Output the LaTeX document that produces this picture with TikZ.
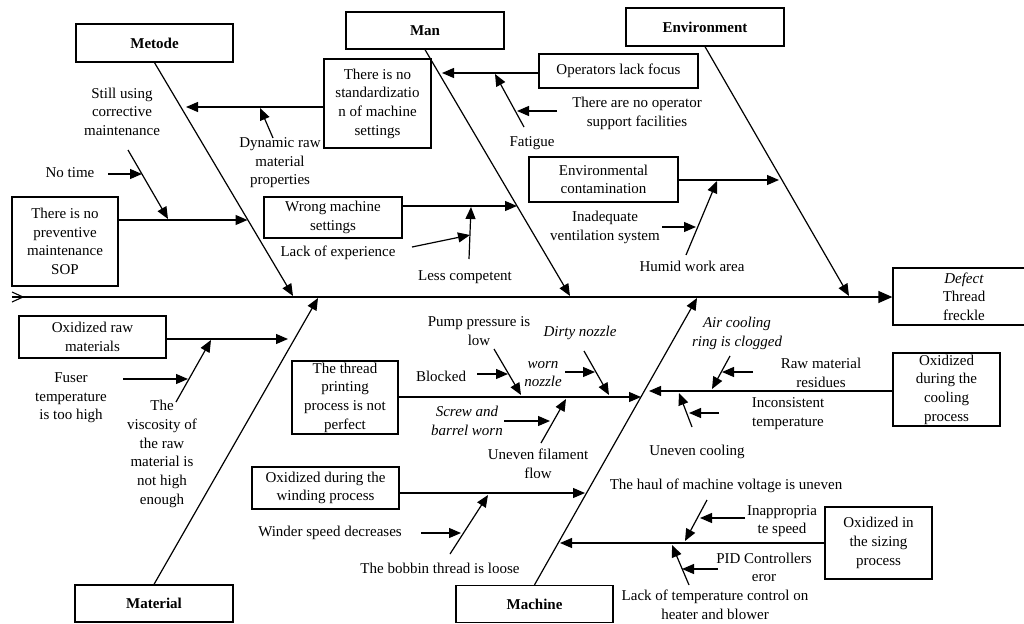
\documentclass[tikz,border=0pt]{standalone}
\usepackage{fontspec}
\setmainfont{Liberation Serif}
\usetikzlibrary{arrows.meta}
\begin{document}
\begin{tikzpicture}[x=1pt,y=-1pt,
  every node/.style={font=\fontsize{15}{18.7}\selectfont},
  box/.style={draw, line width=1.3pt, inner sep=0pt, align=center},
  cat/.style={box, font=\fontsize{15}{18.7}\selectfont\bfseries},
  lbl/.style={inner sep=0pt, align=center},
  ilbl/.style={lbl, font=\fontsize{15}{18.7}\selectfont\itshape},
  arr/.style={line width=1.2pt, -{Triangle[length=12pt,width=10pt]}},
  bone/.style={line width=1.2pt, -{Triangle[length=12pt,width=10pt]}},
  spinearr/.style={line width=1.3pt, -{Triangle[length=14pt,width=12pt]}},
]
\useasboundingbox (0,0) rectangle (1024,623);

% category boxes
\node[cat, minimum width=157pt, minimum height=38pt] (metode) at (154.5,43) {Metode};
\node[cat, minimum width=158pt, minimum height=37pt] (man) at (425,30.5) {Man};
\node[cat, minimum width=158pt, minimum height=38pt] (env) at (705,27) {Environment};
\node[cat, minimum width=158pt, minimum height=37pt] (material) at (154,603.5) {Material};
\node[cat, minimum width=157pt, minimum height=37pt] (machine) at (534.5,604) {Machine};

% effect box
\node[box, minimum width=142pt, minimum height=57pt] (defect) at (964,296.5) {\textit{Defect}\\Thread\\freckle};

% cause boxes
\node[box, minimum width=106pt, minimum height=89pt] (sop) at (65,241.5) {There is no\\preventive\\maintenance\\SOP};
\node[box, minimum width=107pt, minimum height=89pt] (std) at (377.5,103.5) {There is no\\standardizatio\\n of machine\\settings};
\node[box, minimum width=159pt, minimum height=34pt] (ops) at (618.5,71) {Operators lack focus};
\node[box, minimum width=149pt, minimum height=45pt] (contam) at (603.5,179.5) {Environmental\\contamination};
\node[box, minimum width=138pt, minimum height=41pt] (wrong) at (333,217.5) {Wrong machine\\settings};
\node[box, minimum width=147pt, minimum height=42pt] (oxraw) at (92.5,337) {Oxidized raw\\materials};
\node[box, minimum width=106pt, minimum height=73pt] (print) at (345,397.5) {The thread\\printing\\process is not\\perfect};
\node[box, minimum width=147pt, minimum height=42pt] (wind) at (325.5,488) {Oxidized during the\\winding process};
\node[box, minimum width=107pt, minimum height=73pt] (cool) at (946.5,389.5) {Oxidized\\during the\\cooling\\process};
\node[box, minimum width=107pt, minimum height=72pt] (sizing) at (878.5,543) {Oxidized in\\the sizing\\process};

% labels
\node[lbl] (still) at (122,111.7) {Still using\\corrective\\maintenance};
\node[lbl] (notime) at (70,173) {No time};
\node[lbl] (dyn) at (280,162.7) {Dynamic raw\\material\\properties};
\node[lbl] (fatigue) at (532,143) {Fatigue};
\node[lbl] (nosupport) at (637,113.5) {There are no operator\\support facilities};
\node[lbl] (inadeq) at (605,227.5) {Inadequate\\ventilation system};
\node[lbl] (humid) at (692,266) {Humid work area};
\node[lbl] (lackexp) at (338,253) {Lack of experience};
\node[lbl] (lesscomp) at (465,277) {Less competent};
\node[lbl] (fuser) at (71,398) {Fuser\\temperature\\is too high};
\node[lbl] (visc) at (162,454) {The\\viscosity of\\the raw\\material is\\not high\\enough};
\node[lbl] (pump) at (479,331) {Pump pressure is\\low};
\node[lbl] (blocked) at (441,376) {Blocked};
\node[ilbl] (dirty) at (580,333) {Dirty nozzle};
\node[ilbl] (worn) at (543,374) {worn\\nozzle};
\node[ilbl] (screw) at (467,421) {Screw and\\barrel worn};
\node[lbl] (filament) at (538,463.5) {Uneven filament\\flow};
\node[lbl] (winder) at (330,533) {Winder speed decreases};
\node[lbl] (bobbin) at (440,568) {The bobbin thread is loose};
\node[ilbl] (aircool) at (737,333.5) {Air cooling\\ring is clogged};
\node[lbl] (residue) at (821,373) {Raw material\\residues};
\node[lbl] (inconsist) at (788,413.5) {Inconsistent\\temperature};
\node[lbl] (unevcool) at (697,452) {Uneven cooling};
\node[lbl] (haul) at (726,486) {The haul of machine voltage is uneven};
\node[lbl] (inapp) at (782,521) {Inappropria\\te speed};
\node[lbl] (pid) at (764,567.5) {PID Controllers\\eror};
\node[lbl] (lacktemp) at (715,604.5) {Lack of temperature control on\\heater and blower};

% spine
\coordinate (spL) at (12,297);
\draw[spinearr] (spL) -- (spL -| defect.west);
\draw[line width=1.1pt] ([yshift=5pt]spL) -- ([xshift=11pt]spL) -- ([yshift=-5pt]spL);

% bones
\coordinate (metT) at (293,296);
\coordinate (manT) at (570,296);
\coordinate (envT) at (849,296);
\coordinate (matT) at (318,298);
\coordinate (macT) at (697,298);
\draw[bone] (metode.south) -- (metT);
\draw[bone] (man.south) -- (manT);
\draw[bone] (env.south) -- (envT);
\draw[bone] (material.north) -- (matT);
\draw[bone] (machine.north) -- (macT);

% Metode branch
\coordinate (sopT) at (247.5,220);
\draw[arr] (sop.east |- sopT) -- (sopT);
\coordinate (stillS) at (128,150);
\coordinate (stillT) at (168,219);
\draw[arr] (stillS) -- (stillT);
\coordinate (notimeS) at (108,174);
\coordinate (notimeT) at (142,174);
\draw[arr] (notimeS) -- (notimeT);
\coordinate (stdT) at (186,107);
\draw[arr] (std.west |- stdT) -- (stdT);
\coordinate (dynS) at (273,138);
\coordinate (dynT) at (260,108);
\draw[arr] (dynS) -- (dynT);

% Man branch
\coordinate (opsT) at (442,73);
\draw[arr] (ops.west |- opsT) -- (opsT);
\coordinate (fatS) at (524,127);
\coordinate (fatT) at (495,74);
\draw[arr] (fatS) -- (fatT);
\coordinate (nsS) at (557,111);
\coordinate (nsT) at (517,111);
\draw[arr] (nsS) -- (nsT);
\coordinate (wrongT) at (517,206);
\draw[arr] (wrong.east |- wrongT) -- (wrongT);
\coordinate (lcS) at (469,259);
\coordinate (lcT) at (471,207);
\draw[arr] (lcS) -- (lcT);
\coordinate (leS) at (412,247);
\coordinate (leT) at (470,235);
\draw[arr] (leS) -- (leT);

% Environment branch
\coordinate (contT) at (779,180);
\draw[arr] (contam.east |- contT) -- (contT);
\coordinate (humS) at (686,255);
\coordinate (humT) at (717,181);
\draw[arr] (humS) -- (humT);
\coordinate (inS) at (662,227);
\coordinate (inT) at (696,227);
\draw[arr] (inS) -- (inT);

% Material branch
\coordinate (oxT) at (288,339);
\draw[arr] (oxraw.east |- oxT) -- (oxT);
\coordinate (viS) at (176,402);
\coordinate (viT) at (211,340);
\draw[arr] (viS) -- (viT);
\coordinate (fuS) at (123,379);
\coordinate (fuT) at (188,379);
\draw[arr] (fuS) -- (fuT);

% Machine branch
\coordinate (prT) at (641,397);
\draw[arr] (print.east |- prT) -- (prT);
\coordinate (puS) at (494,349);
\coordinate (puT) at (521,395);
\draw[arr] (puS) -- (puT);
\coordinate (blS) at (477,374);
\coordinate (blT) at (508,374);
\draw[arr] (blS) -- (blT);
\coordinate (diS) at (584,351);
\coordinate (diT) at (609,395);
\draw[arr] (diS) -- (diT);
\coordinate (woS) at (565,372);
\coordinate (woT) at (595,372);
\draw[arr] (woS) -- (woT);
\coordinate (scS) at (504,421);
\coordinate (scT) at (550,421);
\draw[arr] (scS) -- (scT);
\coordinate (ufS) at (541,443);
\coordinate (ufT) at (566,399);
\draw[arr] (ufS) -- (ufT);
\coordinate (wiT) at (585,493);
\draw[arr] (wind.east |- wiT) -- (wiT);
\coordinate (boS) at (450,554);
\coordinate (boT) at (488,495);
\draw[arr] (boS) -- (boT);
\coordinate (wsS) at (421,533);
\coordinate (wsT) at (461,533);
\draw[arr] (wsS) -- (wsT);
\coordinate (coT) at (649,391);
\draw[arr] (cool.west |- coT) -- (coT);
\coordinate (acS) at (730,356);
\coordinate (acT) at (712,389);
\draw[arr] (acS) -- (acT);
\coordinate (rrS) at (753,372);
\coordinate (rrT) at (722,372);
\draw[arr] (rrS) -- (rrT);
\coordinate (ucS) at (692,427);
\coordinate (ucT) at (679,393);
\draw[arr] (ucS) -- (ucT);
\coordinate (itS) at (719,413);
\coordinate (itT) at (689,413);
\draw[arr] (itS) -- (itT);
\coordinate (siT) at (560,543);
\draw[arr] (sizing.west |- siT) -- (siT);
\coordinate (haS) at (707,500);
\coordinate (haT) at (685,541);
\draw[arr] (haS) -- (haT);
\coordinate (iaS) at (745,518);
\coordinate (iaT) at (700,518);
\draw[arr] (iaS) -- (iaT);
\coordinate (ltS) at (689,585);
\coordinate (ltT) at (672,545);
\draw[arr] (ltS) -- (ltT);
\coordinate (piS) at (718,569);
\coordinate (piT) at (682,569);
\draw[arr] (piS) -- (piT);

\end{tikzpicture}
\end{document}
